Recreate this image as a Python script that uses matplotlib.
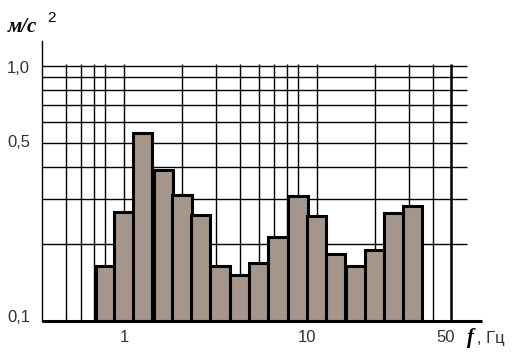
import numpy as np
import matplotlib
matplotlib.use("Agg")
import matplotlib.pyplot as plt
import matplotlib.transforms as mtransforms

# 1/3-octave band centre frequencies, Hz
band_centers = [0.8, 1.0, 1.25, 1.6, 2.0, 2.5, 3.15, 4.0, 5.0, 6.3, 8.0,
                10.0, 12.5, 16.0, 20.0, 25.0, 31.5]
# acceleration, m/s^2
accel = [0.164, 0.268, 0.547, 0.391, 0.311, 0.261, 0.164, 0.151, 0.169,
         0.213, 0.310, 0.257, 0.183, 0.164, 0.189, 0.266, 0.283]

x_grid = [0.5, 0.6, 0.7, 0.8, 1, 2, 3, 4, 5, 6, 7, 8, 10, 20, 30, 40]
x_limit_line = 50
y_grid = [0.2, 0.3, 0.4, 0.5, 0.6, 0.7, 0.8, 0.9, 1.0]
x_ticks = [1, 10, 50]
x_tick_labels = ["1", "10", "50"]
y_ticks = [0.1, 0.5, 1.0]
y_tick_labels = ["0,1", "0,5", "1,0"]

fig = plt.figure(figsize=(5.19, 3.60), dpi=100)
ax = fig.add_axes([42/519, 1-321/360, 440/519, 280/360])
ax.set_xscale("log")
ax.set_yscale("log")
ax.set_xlim(0.376, 72)
ax.set_ylim(0.1, 1.25)

# grid
ax.hlines(y_grid, 0.376, 60.5, colors="black", lw=1.0, zorder=1)
ax.vlines(x_grid, 0.1, 1.018, colors="black", lw=1.0, zorder=1)
ax.vlines([x_limit_line], 0.1, 1.018, colors="black", lw=1.8, zorder=1)

# bars
fc = np.array(band_centers)
lo = fc * 2 ** (-1/6)
hi = fc * 2 ** (1/6)
vals = np.array(accel)
ax.bar(lo, vals - 0.1, width=hi - lo, bottom=0.1, align="edge",
       color="#a5968b", edgecolor="black", linewidth=2.2, zorder=3)

# spines
for s in ["top", "right", "left", "bottom"]:
    ax.spines[s].set_visible(False)
ax.plot([0.376, 0.376], [0.1, 1.25], color="black", lw=1.0, zorder=4, clip_on=False)
ax.plot([0.376, 72], [0.1, 0.1], color="black", lw=2.2, zorder=5, clip_on=False,
        solid_capstyle="butt")

ax.set_xticks([])
ax.set_yticks([])
ax.minorticks_off()
ax.xaxis.set_minor_locator(matplotlib.ticker.NullLocator())
ax.yaxis.set_minor_locator(matplotlib.ticker.NullLocator())

tick_font = dict(family=["Liberation Sans", "DejaVu Sans"], fontsize=12, color="#333333")
x_offsets = [0, -10, -6]
for xt, lab, dx in zip(x_ticks, x_tick_labels, x_offsets):
    tr = mtransforms.offset_copy(ax.transData, fig=fig, x=dx, y=-17, units="dots")
    ax.text(xt, 0.1, lab, transform=tr, ha="center", va="center", **tick_font)
y_offsets = [3, 0, -3]
for yt, lab, dy in zip(y_ticks, y_tick_labels, y_offsets):
    tr = mtransforms.offset_copy(ax.transData, fig=fig, x=-12, y=dy, units="dots")
    ax.text(0.376, yt, lab, transform=tr, ha="right", va="center", **tick_font)

# axis titles
fig.text(8/519, 1-27/360, "м/с", family=["Liberation Serif", "DejaVu Serif"],
         style="italic", weight="bold", fontsize=15, ha="left", va="center")
fig.text(47/519, 1-18/360, "2", family=["Liberation Sans", "DejaVu Sans"],
         fontsize=11, ha="left", va="center")
fig.text(467/519, 1-338/360, "f", family=["Liberation Serif", "DejaVu Serif"],
         style="italic", weight="bold", fontsize=15, ha="left", va="center")
fig.text(477/519, 1-338/360, ", Гц", family=["Liberation Sans", "DejaVu Sans"],
         fontsize=12, ha="left", va="center", color="#333333")

fig.savefig("out.png", dpi=100)
